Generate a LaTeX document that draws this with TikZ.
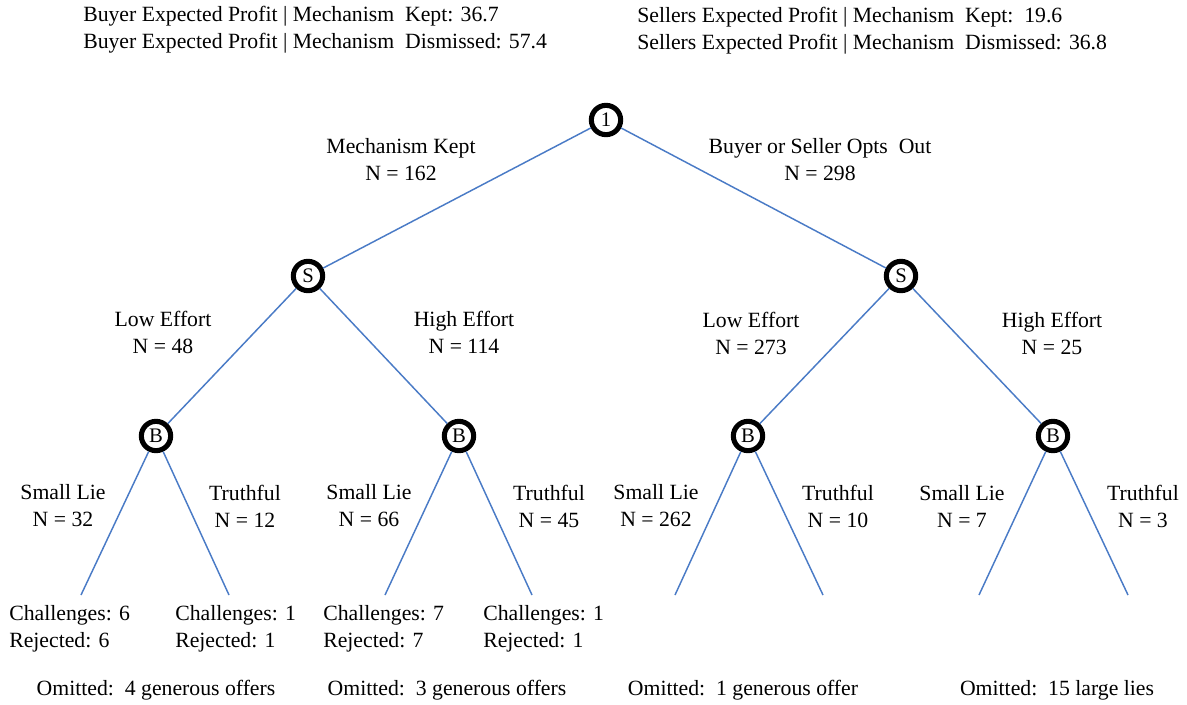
\documentclass[tikz,border=0pt]{standalone}
\usepackage{fontspec}
\setmainfont{Liberation Serif}
\definecolor{edgeblue}{HTML}{4A7BC6}
\begin{document}
\begin{tikzpicture}[x=0.75pt,y=-0.75pt,
  lbl/.style={align=center,inner sep=0pt,font=\fontsize{16.3}{20.25}\selectfont},
  lblL/.style={align=left,inner sep=0pt,anchor=west,font=\fontsize{16.3}{20.25}\selectfont},
  decision/.style={circle,draw=black,line width=3.8pt,minimum size=22pt,inner sep=0pt,fill=white,font=\fontsize{15.5}{15.5}\selectfont},
  edge/.style={draw=edgeblue,line width=1.1pt}]
\useasboundingbox (0,0) rectangle (1187,704);
% decision nodes
\node[decision] (r) at (606,120) {1};
\node[decision] (s1) at (308,276) {S};
\node[decision] (s2) at (901,276) {S};
\node[decision] (b1) at (156,436) {B};
\node[decision] (b2) at (459,436) {B};
\node[decision] (b3) at (748,436) {B};
\node[decision] (b4) at (1053,436) {B};
% leaf ends
\coordinate (l1) at (81,595);
\coordinate (l2) at (229,595);
\coordinate (l3) at (385,595);
\coordinate (l4) at (532,595);
\coordinate (l5) at (675,595);
\coordinate (l6) at (823,595);
\coordinate (l7) at (979,595);
\coordinate (l8) at (1128,595);
% edges
\draw[edge] (r) -- (s1);
\draw[edge] (r) -- (s2);
\draw[edge] (s1) -- (b1);
\draw[edge] (s1) -- (b2);
\draw[edge] (s2) -- (b3);
\draw[edge] (s2) -- (b4);
\draw[edge] (b1) -- (l1);
\draw[edge] (b1) -- (l2);
\draw[edge] (b2) -- (l3);
\draw[edge] (b2) -- (l4);
\draw[edge] (b3) -- (l5);
\draw[edge] (b3) -- (l6);
\draw[edge] (b4) -- (l7);
\draw[edge] (b4) -- (l8);
% header texts
\node[lblL] (hb) at (83,30) {Buyer Expected Profit | Mechanism\ \ Kept: 36.7\\Buyer Expected Profit | Mechanism\ \ Dismissed: 57.4};
\node[lblL] (hs) at (637,31) {Sellers Expected Profit | Mechanism\ \ Kept:\ \ 19.6\\Sellers Expected Profit | Mechanism\ \ Dismissed: 36.8};
% edge labels
\node[lbl] (e1) at (401,160) {Mechanism Kept\\N = 162};
\node[lbl] (e2) at (820,160) {Buyer or Seller Opts\ \ Out\\N = 298};
\node[lbl] (e3) at (163,332) {Low Effort\\N = 48};
\node[lbl] (e4) at (464,332) {High Effort\\N = 114};
\node[lbl] (e5) at (751,333) {Low Effort\\N = 273};
\node[lbl] (e6) at (1052,333) {High Effort\\N = 25};
\node[lbl] (e7) at (63,506) {Small Lie\\N = 32};
\node[lbl] (e8) at (245,506) {Truthful\\N = 12};
\node[lbl] (e9) at (369,506) {Small Lie\\N = 66};
\node[lbl] (e10) at (549,506) {Truthful\\N = 45};
\node[lbl] (e11) at (656,506) {Small Lie\\N = 262};
\node[lbl] (e12) at (838,506) {Truthful\\N = 10};
\node[lbl] (e13) at (962,506) {Small Lie\\N = 7};
\node[lbl] (e14) at (1143,506) {Truthful\\N = 3};
% leaf texts
\node[lblL] (t1) at (9,629) {Challenges: 6\\Rejected: 6};
\node[lblL] (t2) at (175,629) {Challenges: 1\\Rejected: 1};
\node[lblL] (t3) at (323,629) {Challenges: 7\\Rejected: 7};
\node[lblL] (t4) at (483,629) {Challenges: 1\\Rejected: 1};
% omitted
\node[lbl] (o1) at (156,690) {Omitted:\ \ 4 generous offers};
\node[lbl] (o2) at (447,690) {Omitted:\ \ 3 generous offers};
\node[lbl] (o3) at (743,690) {Omitted:\ \ 1 generous offer};
\node[lbl] (o4) at (1057,690) {Omitted:\ \ 15 large lies};
\end{tikzpicture}
\end{document}
